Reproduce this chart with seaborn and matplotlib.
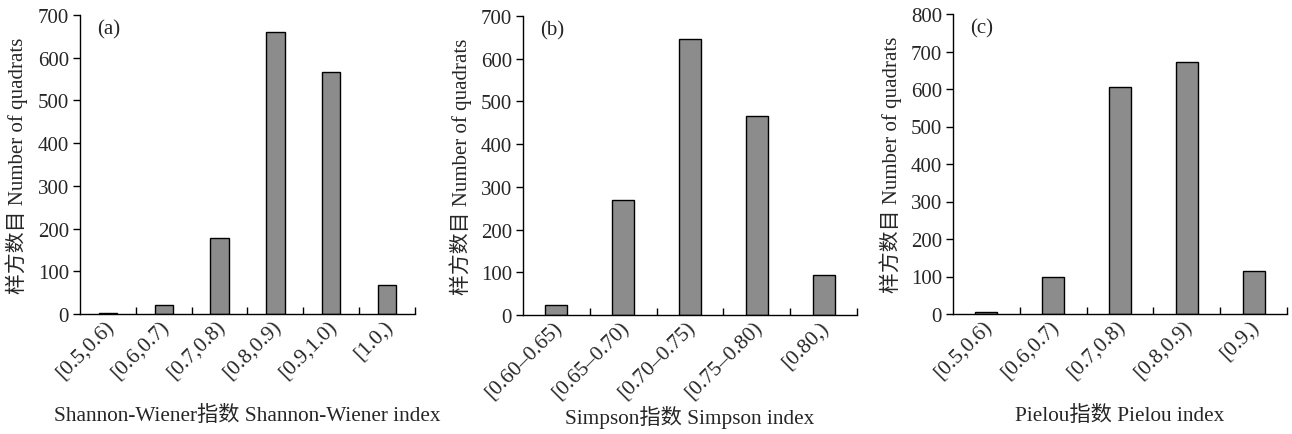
import matplotlib
matplotlib.use('Agg')
import matplotlib.pyplot as plt
import matplotlib.transforms as mtransforms
import seaborn as sns

# Data
sw_cats = ['[0.5,0.6)', '[0.6,0.7)', '[0.7,0.8)', '[0.8,0.9)', '[0.9,1.0)', '[1.0,)']
sw_vals = [3, 21, 178, 660, 566, 69]

simpson_cats = ['[0.60–0.65)', '[0.65–0.70)', '[0.70–0.75)', '[0.75–0.80)', '[0.80,)']
simpson_vals = [23, 270, 645, 466, 93]

pielou_cats = ['[0.5,0.6)', '[0.6,0.7)', '[0.7,0.8)', '[0.8,0.9)', '[0.9,)']
pielou_vals = [5, 99, 605, 673, 114]

panel_tags = ['(a)', '(b)', '(c)']
x_titles = ['Shannon-Wiener指数 Shannon-Wiener index',
            'Simpson指数 Simpson index',
            'Pielou指数 Pielou index']
y_title = '样方数目 Number of quadrats'
y_limits = [700, 700, 800]

sns.set_style('ticks')
plt.rcParams['font.family'] = ['Liberation Serif', 'Noto Sans CJK SC']
plt.rcParams['axes.unicode_minus'] = False

fig = plt.figure(figsize=(12.92, 4.35), dpi=100)
# axes rectangles in figure fractions
rects = [
    [80 / 1292, 1 - 315 / 435, 335 / 1292, 299 / 435],
    [523 / 1292, 1 - 316 / 435, 334 / 1292, 299 / 435],
    [953 / 1292, 1 - 315 / 435, 334 / 1292, 300 / 435],
]

datasets = [(sw_cats, sw_vals), (simpson_cats, simpson_vals), (pielou_cats, pielou_vals)]

for i, (cats, vals) in enumerate(datasets):
    ax = fig.add_axes(rects[i])
    sns.barplot(x=cats, y=vals, color='#8c8c8c', saturation=1, edgecolor='black',
                linewidth=1.0, width=0.33, ax=ax)
    n = len(cats)
    ax.set_xlim(-0.5, n - 0.5)
    ax.set_ylim(0, y_limits[i])
    ax.set_yticks(range(0, y_limits[i] + 1, 100))
    sns.despine(ax=ax)
    for sp in ['left', 'bottom']:
        ax.spines[sp].set_linewidth(1.0)
        ax.spines[sp].set_color('black')

    # category boundary ticks pointing inward, no ticks at bar centres
    ax.set_xticks([k + 0.5 for k in range(n)], minor=True)
    ax.tick_params(axis='x', which='minor', direction='in', length=5, width=1, color='black')
    ax.tick_params(axis='x', which='major', length=0, pad=7)
    ax.tick_params(axis='y', direction='out', length=5, width=1, color='black',
                   labelsize=15, pad=3)
    ax.set_xticks(range(n))
    ax.set_xticklabels(cats, rotation=45, ha='right', va='center',
                       rotation_mode='anchor', fontsize=15.5)
    shift = mtransforms.ScaledTranslation(2.5 / 72, 0, fig.dpi_scale_trans)
    for lab in ax.get_xticklabels():
        lab.set_transform(lab.get_transform() + shift)

    ax.set_ylabel(y_title, fontsize=15)
    ax.yaxis.label.set_va('center')
    ax.yaxis.set_label_coords(-0.188, 0.5)
    ax.set_xlabel(x_titles[i], fontsize=15.3)
    ax.xaxis.label.set_va('center')
    ax.xaxis.set_label_coords(0.5, -0.338)

    ax.text(0.05, 0.953, panel_tags[i], transform=ax.transAxes, fontsize=15,
            ha='left', va='center')

fig.savefig('out.png', dpi=100, facecolor='white')
